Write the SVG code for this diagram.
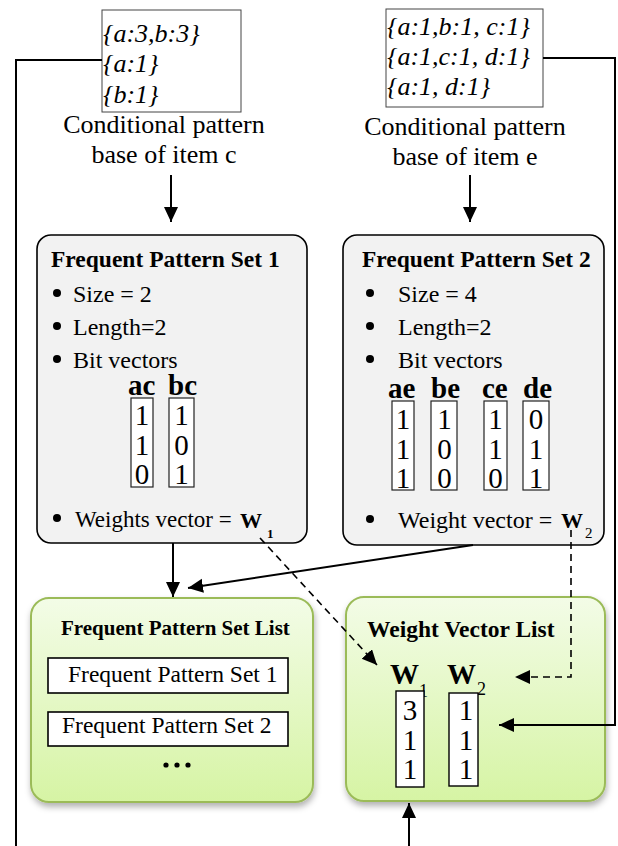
<svg xmlns="http://www.w3.org/2000/svg" width="618" height="846" viewBox="0 0 618 846">
<defs>
<style>
text{font-family:"Liberation Serif","Times New Roman",serif;fill:#000}
.it{font-style:italic;font-size:26px}
.cap{font-size:26px;text-anchor:middle}
.ttl{font-weight:bold;font-size:23.5px}
.reg{font-size:24px}
.lbl{font-weight:bold;font-size:29px}
.dig{font-size:29px;text-anchor:middle}
.set{fill:#fff;stroke:#444;stroke-width:1}
.fps{fill:#f2f2f2;stroke:#000;stroke-width:1.6}
.bit{fill:#fff;stroke:#222;stroke-width:1.2}
.lst{fill:url(#g);stroke:#9bbb59;stroke-width:2}
.ib{fill:#fff;stroke:#000;stroke-width:1.6}
.c{fill:none;stroke:#000;stroke-width:2}
.d{fill:none;stroke:#000;stroke-width:1.6;stroke-dasharray:7 5}
</style>
<linearGradient id="g" x1="0" y1="0" x2="0" y2="1">
<stop offset="0" stop-color="#f3fce7"/>
<stop offset="1" stop-color="#d6f4a4"/>
</linearGradient>
<filter id="sh" x="-10%" y="-10%" width="125%" height="130%">
<feDropShadow dx="1" dy="4" stdDeviation="3" flood-color="#000" flood-opacity="0.3"/>
</filter>
<marker id="a" markerUnits="userSpaceOnUse" markerWidth="16" markerHeight="16" refX="15" refY="7" orient="auto">
<path d="M0,0 L15,7 L0,14 Z" fill="#000"/>
</marker>
</defs>

<g id="cpb-c">
<rect class="set" x="102" y="10" width="139" height="102"/>
<text class="it" x="103" y="42">{a:3,b:3}</text>
<text class="it" x="103" y="72">{a:1}</text>
<text class="it" x="103" y="103">{b:1}</text>
<text class="cap" x="164" y="133">Conditional pattern</text>
<text class="cap" x="164" y="163">base of item c</text>
</g>

<g id="cpb-e">
<rect class="set" x="386" y="9" width="157" height="98"/>
<text class="it" x="387" y="35">{a:1,b:1, c:1}</text>
<text class="it" x="387" y="65">{a:1,c:1, d:1}</text>
<text class="it" x="387" y="95">{a:1, d:1}</text>
<text class="cap" x="465" y="135">Conditional pattern</text>
<text class="cap" x="465" y="165">base of item e</text>
</g>

<g id="fps1">
<rect class="fps" x="37" y="235" width="270" height="308" rx="14"/>
<text class="ttl" x="51" y="267">Frequent Pattern Set 1</text>
<circle cx="57" cy="293" r="4"/>
<text class="reg" x="73" y="302">Size = 2</text>
<circle cx="57" cy="326" r="4"/>
<text class="reg" x="73" y="335">Length=2</text>
<circle cx="57" cy="359" r="4"/>
<text class="reg" x="73" y="368">Bit vectors</text>
<text class="lbl" x="128" y="395">ac</text>
<text class="lbl" x="168" y="395">bc</text>
<rect class="bit" x="131" y="398" width="22" height="89"/>
<rect class="bit" x="169" y="398" width="25" height="89"/>
<text class="dig" x="142" y="425">1</text>
<text class="dig" x="142" y="455">1</text>
<text class="dig" x="142" y="484">0</text>
<text class="dig" x="181.5" y="425">1</text>
<text class="dig" x="181.5" y="455">0</text>
<text class="dig" x="181.5" y="484">1</text>
<circle cx="57" cy="518" r="4"/>
<text class="reg" x="75" y="527" style="font-size:23px">Weights vector = </text>
<text x="240" y="528" style="font-weight:bold;font-size:22px">W</text>
<text x="267" y="538" style="font-weight:bold;font-size:13px">1</text>
</g>

<g id="fps2">
<rect class="fps" x="343" y="235" width="261" height="310" rx="14"/>
<text class="ttl" x="362" y="267">Frequent Pattern Set 2</text>
<circle cx="370" cy="293" r="4"/>
<text class="reg" x="398" y="302">Size = 4</text>
<circle cx="370" cy="326" r="4"/>
<text class="reg" x="398" y="335">Length=2</text>
<circle cx="370" cy="359" r="4"/>
<text class="reg" x="398" y="368">Bit vectors</text>
<text class="lbl" x="388" y="398">ae</text>
<text class="lbl" x="431" y="398">be</text>
<text class="lbl" x="482" y="398">ce</text>
<text class="lbl" x="523" y="398">de</text>
<rect class="bit" x="392" y="401" width="22" height="89"/>
<rect class="bit" x="431" y="401" width="26" height="89"/>
<rect class="bit" x="484" y="401" width="23" height="89"/>
<rect class="bit" x="523" y="401" width="26" height="89"/>
<text class="dig" x="403" y="429">1</text>
<text class="dig" x="403" y="459">1</text>
<text class="dig" x="403" y="488">1</text>
<text class="dig" x="444.5" y="429">1</text>
<text class="dig" x="444.5" y="459">0</text>
<text class="dig" x="444.5" y="488">0</text>
<text class="dig" x="495.5" y="429">1</text>
<text class="dig" x="495.5" y="459">1</text>
<text class="dig" x="495.5" y="488">0</text>
<text class="dig" x="536" y="429">0</text>
<text class="dig" x="536" y="459">1</text>
<text class="dig" x="536" y="488">1</text>
<circle cx="370" cy="519" r="4"/>
<text class="reg" x="398" y="528">Weight vector = </text>
<text x="561" y="528" style="font-weight:bold;font-size:22px">W</text>
<text x="585" y="538" style="font-size:15px">2</text>
</g>

<g id="fps-list">
<rect class="lst" x="31" y="598" width="282" height="204" rx="18" filter="url(#sh)"/>
<text x="61" y="635" style="font-weight:bold;font-size:21px">Frequent Pattern Set List</text>
<rect class="ib" x="48" y="658" width="240" height="35"/>
<text class="reg" x="68" y="682" style="font-size:23.5px">Frequent Pattern Set 1</text>
<rect class="ib" x="48" y="712" width="240" height="34"/>
<text class="reg" x="62" y="733" style="font-size:23.5px">Frequent Pattern Set 2</text>
<circle cx="166" cy="765" r="2.6"/>
<circle cx="177" cy="765" r="2.6"/>
<circle cx="188" cy="765" r="2.6"/>
</g>

<g id="wv-list">
<rect class="lst" x="346" y="597" width="259" height="204" rx="18" filter="url(#sh)"/>
<text class="ttl" x="367" y="637">Weight Vector List</text>
<text x="390" y="684" style="font-weight:bold;font-size:29px">W</text>
<text x="419" y="697" style="font-size:18px">1</text>
<text x="447" y="684" style="font-weight:bold;font-size:29px">W</text>
<text x="477" y="695" style="font-size:18px">2</text>
<rect class="ib" x="396" y="691" width="28" height="96" style="stroke-width:1.4"/>
<rect class="ib" x="449" y="693" width="29" height="93" style="stroke-width:1.4"/>
<text class="dig" x="410" y="720">3</text>
<text class="dig" x="410" y="750">1</text>
<text class="dig" x="410" y="779">1</text>
<text class="dig" x="466" y="720">1</text>
<text class="dig" x="466" y="750">1</text>
<text class="dig" x="466" y="779">1</text>
</g>

<g id="connectors">
<path class="c" d="M102,60 H16 V846"/>
<path class="c" d="M543,58 H615 V725 H499" marker-end="url(#a)"/>
<path class="c" d="M171,175 V222" marker-end="url(#a)"/>
<path class="c" d="M470,175 V222" marker-end="url(#a)"/>
<path class="c" d="M173,543 V597" marker-end="url(#a)"/>
<path class="c" d="M473,545 L188,588" marker-end="url(#a)"/>
<path class="d" d="M260,538 L377,665" marker-end="url(#a)"/>
<path class="d" d="M571,530 V677 H515" marker-end="url(#a)"/>
<path class="c" d="M409,846 V803" marker-end="url(#a)"/>
</g>
</svg>
